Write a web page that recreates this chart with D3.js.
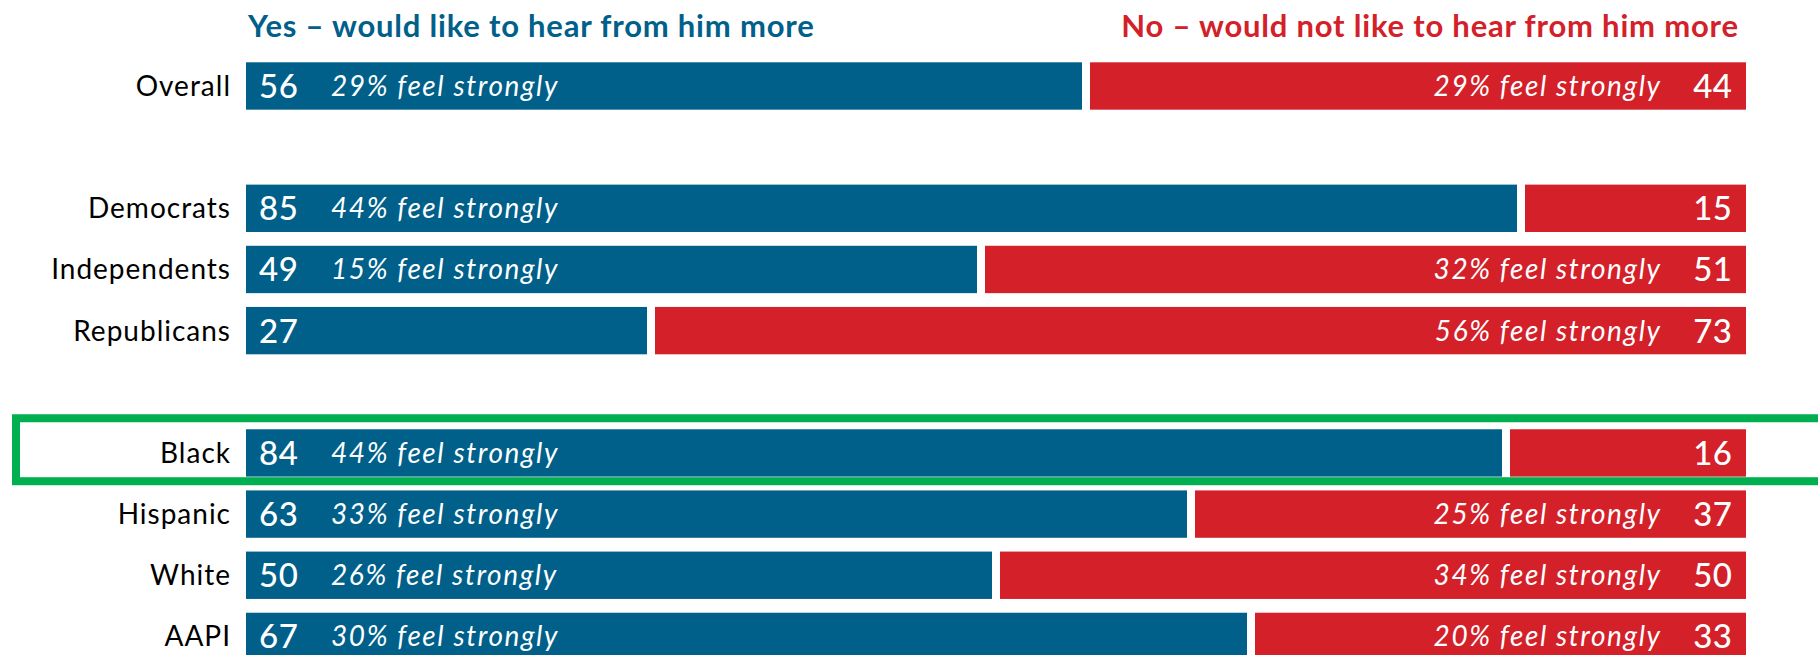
<!DOCTYPE html>
<html>
<head>
<meta charset="utf-8">
<script src="https://cdn.jsdelivr.net/npm/d3@7"></script>
<style>
  body { margin: 0; background: #fff; }
  svg { display: block; font-family: Lato, "Noto Sans", sans-serif; }
</style>
</head>
<body>
<svg id="chart" width="1818" height="655"></svg>
<script>
// data
var categories = ["Overall", "Democrats", "Independents", "Republicans", "Black", "Hispanic", "White", "AAPI"];
var slots = ["Overall", "gap1", "Democrats", "Independents", "Republicans", "gap2", "Black", "Hispanic", "White", "AAPI"];
var yesValues = [56, 85, 49, 27, 84, 63, 50, 67];
var noValues = [44, 15, 51, 73, 16, 37, 50, 33];
var yesStrong = [29, 44, 15, null, 44, 33, 26, 30];
var noStrong = [29, null, 32, 56, null, 25, 34, 20];
var yesTitle = "Yes \u2013 would like to hear from him more";
var noTitle = "No \u2013 would not like to hear from him more";
var highlighted = "Black";

var blue = "#00608a", red = "#d32029", green = "#00b050";
var gap = 4;

var svg = d3.select("#chart");

var x = d3.scaleLinear().domain([0, 100]).range([246, 1746]);
var y = d3.scaleBand().domain(slots).range([62.3, 660.1]).paddingInner(0.2255);
var bh = y.bandwidth();

var rows = categories.map(function (c, i) {
    return { cat: c, yes: yesValues[i], no: noValues[i], ys: yesStrong[i], ns: noStrong[i] };
});

// headers
svg.append("text")
    .attr("x", x(0) + 2)
    .attr("y", 36.7)
    .attr("fill", blue)
    .attr("font-size", 31)
    .attr("font-weight", 700)
    .attr("letter-spacing", 0.8)
    .text(yesTitle);

svg.append("text")
    .attr("x", x(100) - 8 + 0.8)
    .attr("y", 36.7)
    .attr("text-anchor", "end")
    .attr("fill", red)
    .attr("font-size", 31)
    .attr("font-weight", 700)
    .attr("letter-spacing", 0.8)
    .text(noTitle);

var row = svg.selectAll("g.row")
    .data(rows)
    .enter()
    .append("g")
    .attr("class", "row")
    .attr("transform", function (d) { return "translate(0," + y(d.cat) + ")"; });

row.append("rect")
    .attr("x", x(0))
    .attr("y", 0)
    .attr("width", function (d) { return x(d.yes) - x(0) - gap; })
    .attr("height", bh)
    .attr("fill", blue);

row.append("rect")
    .attr("x", function (d) { return x(d.yes) + gap; })
    .attr("y", 0)
    .attr("width", function (d) { return x(100) - x(d.yes) - gap; })
    .attr("height", bh)
    .attr("fill", red);

// category labels
row.append("text")
    .attr("x", 231)
    .attr("y", bh / 2 + 10)
    .attr("text-anchor", "end")
    .attr("fill", "#000")
    .attr("font-size", 28)
    .attr("letter-spacing", 1)
    .text(function (d) { return d.cat; });

// numbers
row.append("text")
    .attr("x", x(0) + 13)
    .attr("y", bh / 2 + 12)
    .attr("fill", "#fff")
    .attr("font-size", 33)
    .attr("font-weight", 500)
    .attr("letter-spacing", 0.5)
    .text(function (d) { return d.yes; });

row.append("text")
    .attr("x", x(100) - 13.5)
    .attr("y", bh / 2 + 12)
    .attr("text-anchor", "end")
    .attr("fill", "#fff")
    .attr("font-size", 33)
    .attr("font-weight", 500)
    .attr("letter-spacing", 0.5)
    .text(function (d) { return d.no; });

// "feel strongly" notes
row.filter(function (d) { return d.ys != null; })
    .append("text")
    .attr("x", x(0) + 85)
    .attr("y", bh / 2 + 10)
    .attr("fill", "#fff")
    .attr("font-size", 28)
    .attr("font-style", "italic")
    .attr("letter-spacing", 1.6)
    .text(function (d) { return d.ys + "% feel strongly"; });

row.filter(function (d) { return d.ns != null; })
    .append("text")
    .attr("x", x(100) - 86 + 1.6)
    .attr("y", bh / 2 + 10)
    .attr("text-anchor", "end")
    .attr("fill", "#fff")
    .attr("font-size", 28)
    .attr("font-style", "italic")
    .attr("letter-spacing", 1.6)
    .text(function (d) { return d.ns + "% feel strongly"; });

// highlight box
svg.append("rect")
    .attr("x", 16)
    .attr("y", y(highlighted) - 11)
    .attr("width", 1830)
    .attr("height", bh + 15.6)
    .attr("fill", "none")
    .attr("stroke", green)
    .attr("stroke-width", 8);
</script>
</body>
</html>
